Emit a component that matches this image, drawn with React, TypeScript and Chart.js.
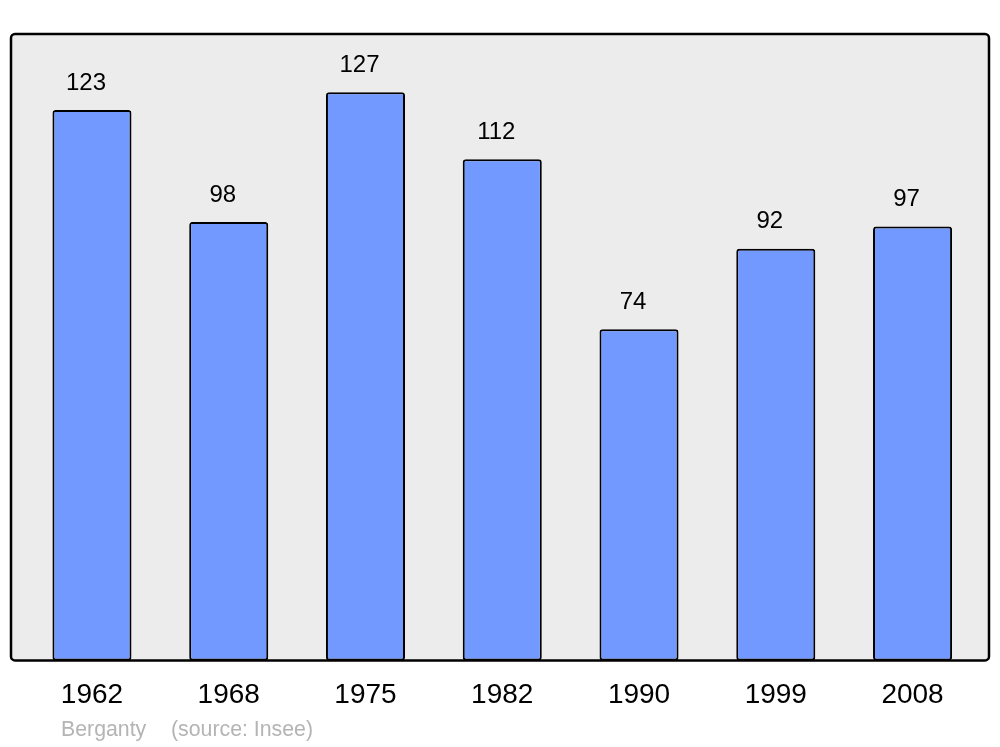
import React, { useEffect, useRef } from "react";
import { Chart, registerables } from "chart.js";

Chart.register(...registerables);

const years: string[] = ["1962", "1968", "1975", "1982", "1990", "1999", "2008"];
const population: number[] = [123, 98, 127, 112, 74, 92, 97];
const placeName = "Berganty";
const sourceText = "(source: Insee)";

const FONT = "'Liberation Sans', Arial, sans-serif";

const framePlugin = {
  id: "frameAndLabels",
  beforeDatasetsDraw(chart: any) {
    const { ctx, chartArea: a } = chart;
    ctx.save();
    ctx.fillStyle = "#ececec";
    ctx.beginPath();
    ctx.roundRect(a.left, a.top, a.right - a.left, a.bottom - a.top, 4);
    ctx.fill();
    ctx.restore();
  },
  afterDatasetsDraw(chart: any) {
    const { ctx, chartArea: a } = chart;
    ctx.save();
    ctx.strokeStyle = "#000";
    ctx.lineWidth = 2.5;
    ctx.beginPath();
    ctx.roundRect(a.left, a.top, a.right - a.left, a.bottom - a.top, 4);
    ctx.stroke();

    // value labels
    const meta = chart.getDatasetMeta(0);
    ctx.fillStyle = "#000";
    ctx.font = `24px ${FONT}`;
    ctx.textAlign = "center";
    ctx.textBaseline = "middle";
    meta.data.forEach((bar: any, i: number) => {
      ctx.fillText(String(population[i]), bar.x - 6, bar.y - 27);
    });

    // source line
    ctx.fillStyle = "#b4b4b4";
    ctx.font = `21.3px ${FONT}`;
    ctx.textAlign = "left";
    ctx.fillText(placeName, a.left + 50, a.bottom + 70);
    ctx.fillText(sourceText, a.left + 160, a.bottom + 70);
    ctx.restore();
  },
};

export default function App() {
  const ref = useRef<HTMLCanvasElement | null>(null);
  useEffect(() => {
    if (!ref.current) return;
    const chart = new Chart(ref.current, {
      type: "bar",
      data: {
        datasets: [
          {
            data: years.map((_, i) => ({ x: i, y: population[i] })),
            backgroundColor: "#7299ff",
            borderColor: "#000",
            borderWidth: 2,
            borderRadius: 3,
            borderSkipped: false,
            categoryPercentage: 1,
            barPercentage: 0.578,
          },
        ],
      },
      options: {
        animation: false,
        responsive: false,
        layout: { padding: { left: 11, right: 11, top: 34, bottom: 17 } },
        plugins: { legend: { display: false }, tooltip: { enabled: false } },
        scales: {
          x: {
            type: "linear",
            offset: false,
            min: -0.592,
            max: 6.559,
            grid: { display: false, drawTicks: false, offset: false },
            border: { display: false },
            ticks: {
              stepSize: 1,
              includeBounds: false,
              autoSkip: false,
              maxRotation: 0,
              padding: 18,
              color: "#000",
              font: { family: FONT, size: 28 },
              callback: (v: any) => years[v as number] ?? "",
            },
          },
          y: {
            display: false,
            min: 0,
            max: 140,
          },
        },
      },
      plugins: [framePlugin],
    });
    return () => chart.destroy();
  }, []);
  return (
    <div style={{ position: "absolute", left: 0, top: 0, width: 1000, height: 747 }}>
      <canvas ref={ref} width={1000} height={747} />
    </div>
  );
}
